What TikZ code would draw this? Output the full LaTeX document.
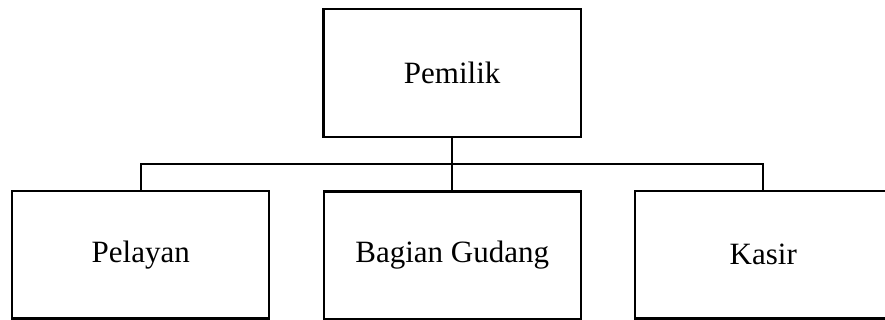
\documentclass[tikz,border=0pt]{standalone}
\usepackage{fontspec}
\setmainfont{Liberation Serif}
\begin{document}
\begin{tikzpicture}[x=1pt,y=-1pt,
  box/.style={draw=black,line width=2.3pt,rectangle,minimum width=257pt,minimum height=127.5pt,inner sep=0pt,font=\fontsize{31}{37}\selectfont,fill=white},
  conn/.style={draw=black,line width=2.3pt}]
\useasboundingbox (0,0) rectangle (885,320);
\clip (0,0) rectangle (885,320);
\node[box,minimum width=257.7pt,minimum height=128pt] (top) at (452.2,72.7) {Pemilik};
\node[box] (left) at (140.8,254.8) {Pelayan};
\node[box] (mid) at (452.2,255.2) {Bagian Gudang};
\node[box] (right) at (763.3,254.8) {Kasir};
\coordinate (bus) at (452.2,164);
\draw[conn] (top.south) -- (bus);
\draw[conn] (left.north) -- (left.north |- bus) -- (right.north |- bus) -- (right.north);
\draw[conn] (bus) -- (mid.north);
\end{tikzpicture}
\end{document}
